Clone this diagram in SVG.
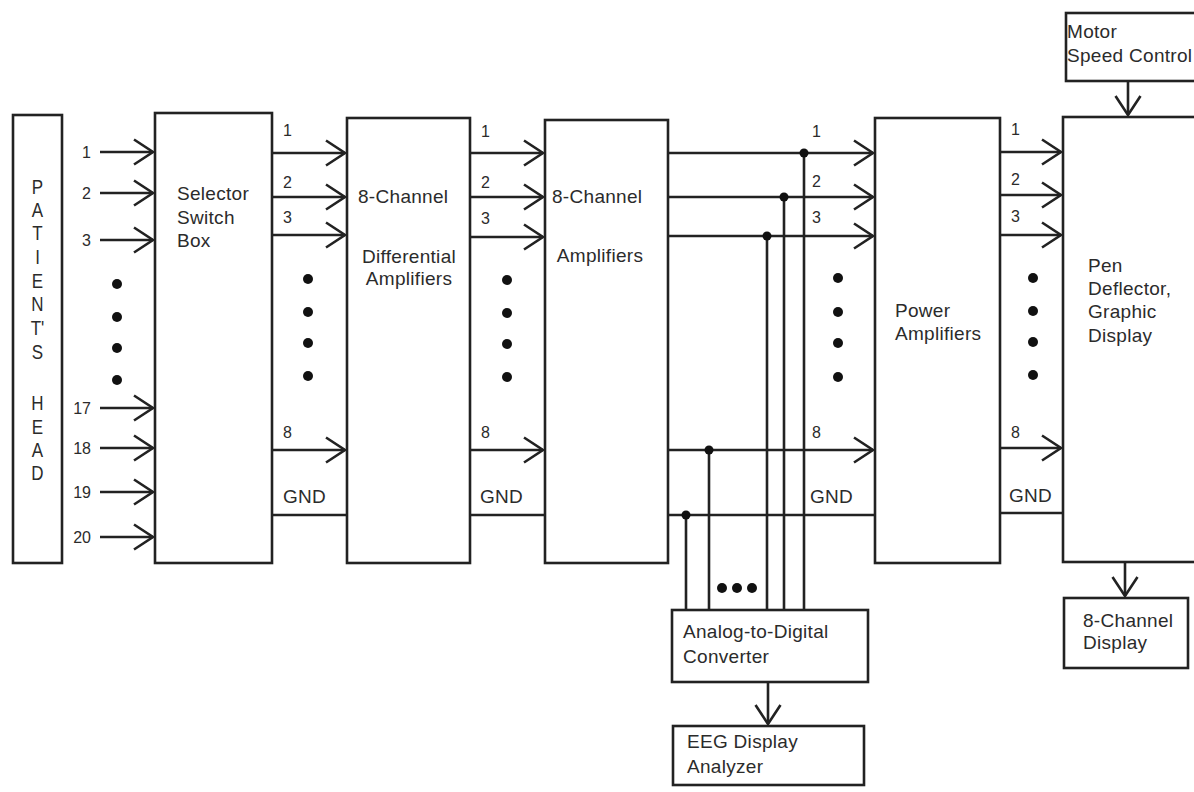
<svg xmlns="http://www.w3.org/2000/svg" width="1194" height="792" viewBox="0 0 1194 792">
<style>
.box{fill:#fff;stroke:#222;stroke-width:2.6}
.ln{fill:none;stroke:#222;stroke-width:2.6}
.arr{fill:none;stroke:#222;stroke-width:2.6;marker-end:url(#ah)}
.t{font-family:"Liberation Sans",Arial,sans-serif;font-size:19px;letter-spacing:0.3px;fill:#2b2b2b}
.n{font-family:"Liberation Sans",Arial,sans-serif;font-size:16px;fill:#2b2b2b}
.big{font-family:"Liberation Sans",Arial,sans-serif;font-size:20px;fill:#2b2b2b;text-anchor:middle}
.dot{fill:#111}
</style>
<defs>
<marker id="ah" viewBox="-22 -15 24 30" refX="0" refY="0" markerWidth="24" markerHeight="30" markerUnits="userSpaceOnUse" orient="auto">
<path d="M-19,-12.5 L0,0 L-19,12.5" fill="none" stroke="#222" stroke-width="2.6"/>
</marker>
</defs>
<rect width="1194" height="792" fill="#fff"/>

<g id="patients-head">
<rect class="box" x="13" y="115" width="49" height="448"/>
<g transform="matrix(0.85,0,0,1,37.5,0)">
<text class="big" x="0" y="194">P</text>
<text class="big" x="0" y="217">A</text>
<text class="big" x="0" y="240">T</text>
<text class="big" x="0" y="264">I</text>
<text class="big" x="0" y="288">E</text>
<text class="big" x="0" y="311">N</text>
<text class="big" x="0" y="335">T'</text>
<text class="big" x="0" y="359">S</text>
<text class="big" x="0" y="410">H</text>
<text class="big" x="0" y="434">E</text>
<text class="big" x="0" y="457">A</text>
<text class="big" x="0" y="480">D</text>
</g>
</g>

<g id="selector-switch-box">
<rect class="box" x="155" y="113" width="117" height="450"/>
<text class="t" x="177" y="200">Selector</text>
<text class="t" x="177" y="224">Switch</text>
<text class="t" x="177" y="247">Box</text>
</g>

<g id="differential-amplifiers">
<rect class="box" x="347" y="118" width="123" height="445"/>
<text class="t" x="358" y="203">8-Channel</text>
<text class="t" x="409" y="263" text-anchor="middle">Differential</text>
<text class="t" x="409" y="285" text-anchor="middle">Amplifiers</text>
</g>

<g id="amplifiers">
<rect class="box" x="545" y="120" width="123" height="443"/>
<text class="t" x="552" y="203">8-Channel</text>
<text class="t" x="600" y="262" text-anchor="middle">Amplifiers</text>
</g>

<g id="power-amplifiers">
<rect class="box" x="875" y="118" width="125" height="445"/>
<text class="t" x="895" y="317">Power</text>
<text class="t" x="895" y="340">Amplifiers</text>
</g>

<g id="pen-deflector">
<rect class="box" x="1063" y="117" width="145" height="445"/>
<text class="t" x="1088" y="272">Pen</text>
<text class="t" x="1088" y="295">Deflector,</text>
<text class="t" x="1088" y="318">Graphic</text>
<text class="t" x="1088" y="342">Display</text>
</g>

<g id="motor-speed-control">
<rect class="box" x="1066" y="13" width="140" height="68"/>
<text class="t" x="1067" y="38">Motor</text>
<text class="t" x="1067" y="62">Speed Control</text>
</g>

<g id="eight-channel-display">
<rect class="box" x="1064" y="598" width="124" height="70"/>
<text class="t" x="1083" y="627">8-Channel</text>
<text class="t" x="1083" y="649">Display</text>
</g>

<g id="adc">
<rect class="box" x="672" y="610" width="196" height="72"/>
<text class="t" x="683" y="638">Analog-to-Digital</text>
<text class="t" x="683" y="663">Converter</text>
</g>

<g id="eeg-display-analyzer">
<rect class="box" x="673" y="726" width="191" height="59"/>
<text class="t" x="687" y="748">EEG Display</text>
<text class="t" x="687" y="773">Analyzer</text>
</g>

<g id="connectors">
<line class="arr" x1="100" y1="152" x2="153" y2="152"/>
<line class="arr" x1="100" y1="193" x2="153" y2="193"/>
<line class="arr" x1="100" y1="240" x2="153" y2="240"/>
<line class="arr" x1="100" y1="408" x2="153" y2="408"/>
<line class="arr" x1="100" y1="448" x2="153" y2="448"/>
<line class="arr" x1="100" y1="492" x2="153" y2="492"/>
<line class="arr" x1="100" y1="537" x2="153" y2="537"/>
<line class="arr" x1="272" y1="153" x2="345" y2="153"/>
<line class="arr" x1="272" y1="197" x2="345" y2="197"/>
<line class="arr" x1="272" y1="235" x2="345" y2="235"/>
<line class="arr" x1="272" y1="450" x2="345" y2="450"/>
<line class="ln" x1="272" y1="515" x2="347" y2="515"/>
<line class="arr" x1="470" y1="153" x2="543" y2="153"/>
<line class="arr" x1="470" y1="197" x2="543" y2="197"/>
<line class="arr" x1="470" y1="237" x2="543" y2="237"/>
<line class="arr" x1="470" y1="450" x2="543" y2="450"/>
<line class="ln" x1="470" y1="515" x2="545" y2="515"/>
<line class="arr" x1="668" y1="153" x2="873" y2="153"/>
<line class="arr" x1="668" y1="197" x2="873" y2="197"/>
<line class="arr" x1="668" y1="236" x2="873" y2="236"/>
<line class="arr" x1="668" y1="450" x2="873" y2="450"/>
<line class="ln" x1="668" y1="515" x2="875" y2="515"/>
<line class="ln" x1="804" y1="153" x2="804" y2="610"/>
<line class="ln" x1="784" y1="197" x2="784" y2="610"/>
<line class="ln" x1="767" y1="236" x2="767" y2="610"/>
<line class="ln" x1="709" y1="450" x2="709" y2="610"/>
<line class="ln" x1="686" y1="515" x2="686" y2="610"/>
<circle class="dot" cx="804" cy="153" r="4.5"/>
<circle class="dot" cx="784" cy="197" r="4.5"/>
<circle class="dot" cx="767" cy="236" r="4.5"/>
<circle class="dot" cx="709" cy="450" r="4.5"/>
<circle class="dot" cx="686" cy="515" r="4.5"/>
<line class="arr" x1="1000" y1="152" x2="1061" y2="152"/>
<line class="arr" x1="1000" y1="195" x2="1061" y2="195"/>
<line class="arr" x1="1000" y1="235" x2="1061" y2="235"/>
<line class="arr" x1="1000" y1="448" x2="1061" y2="448"/>
<line class="ln" x1="1000" y1="513" x2="1063" y2="513"/>
<line class="arr" x1="1128" y1="81" x2="1128" y2="115"/>
<line class="arr" x1="1125" y1="562" x2="1125" y2="596"/>
<line class="arr" x1="768" y1="682" x2="768" y2="724"/>

<text class="n" x="91" y="158" text-anchor="end">1</text>
<text class="n" x="91" y="199" text-anchor="end">2</text>
<text class="n" x="91" y="246" text-anchor="end">3</text>
<text class="n" x="91" y="414" text-anchor="end">17</text>
<text class="n" x="91" y="454" text-anchor="end">18</text>
<text class="n" x="91" y="498" text-anchor="end">19</text>
<text class="n" x="91" y="543" text-anchor="end">20</text>

<text class="n" x="283" y="136">1</text>
<text class="n" x="283" y="188">2</text>
<text class="n" x="283" y="223">3</text>
<text class="n" x="283" y="438">8</text>
<text class="t" x="283" y="503">GND</text>

<text class="n" x="481" y="137">1</text>
<text class="n" x="481" y="188">2</text>
<text class="n" x="481" y="224">3</text>
<text class="n" x="481" y="438">8</text>
<text class="t" x="480" y="503">GND</text>

<text class="n" x="812" y="137">1</text>
<text class="n" x="812" y="187">2</text>
<text class="n" x="812" y="223">3</text>
<text class="n" x="812" y="438">8</text>
<text class="t" x="810" y="503">GND</text>

<text class="n" x="1011" y="135">1</text>
<text class="n" x="1011" y="185">2</text>
<text class="n" x="1011" y="222">3</text>
<text class="n" x="1011" y="438">8</text>
<text class="t" x="1009" y="502">GND</text>

<circle class="dot" cx="117" cy="284" r="5"/>
<circle class="dot" cx="117" cy="317" r="5"/>
<circle class="dot" cx="117" cy="348" r="5"/>
<circle class="dot" cx="117" cy="380" r="5"/>
<circle class="dot" cx="308" cy="279" r="5"/>
<circle class="dot" cx="308" cy="312" r="5"/>
<circle class="dot" cx="308" cy="343" r="5"/>
<circle class="dot" cx="308" cy="376" r="5"/>
<circle class="dot" cx="507" cy="280" r="5"/>
<circle class="dot" cx="507" cy="313" r="5"/>
<circle class="dot" cx="507" cy="344" r="5"/>
<circle class="dot" cx="507" cy="377" r="5"/>
<circle class="dot" cx="838" cy="278" r="5"/>
<circle class="dot" cx="838" cy="312" r="5"/>
<circle class="dot" cx="838" cy="343" r="5"/>
<circle class="dot" cx="838" cy="377" r="5"/>
<circle class="dot" cx="1033" cy="278" r="5"/>
<circle class="dot" cx="1033" cy="311" r="5"/>
<circle class="dot" cx="1033" cy="342" r="5"/>
<circle class="dot" cx="1033" cy="375" r="5"/>
<circle class="dot" cx="722" cy="588" r="5"/>
<circle class="dot" cx="737" cy="588" r="5"/>
<circle class="dot" cx="752" cy="588" r="5"/>
</g>
</svg>
